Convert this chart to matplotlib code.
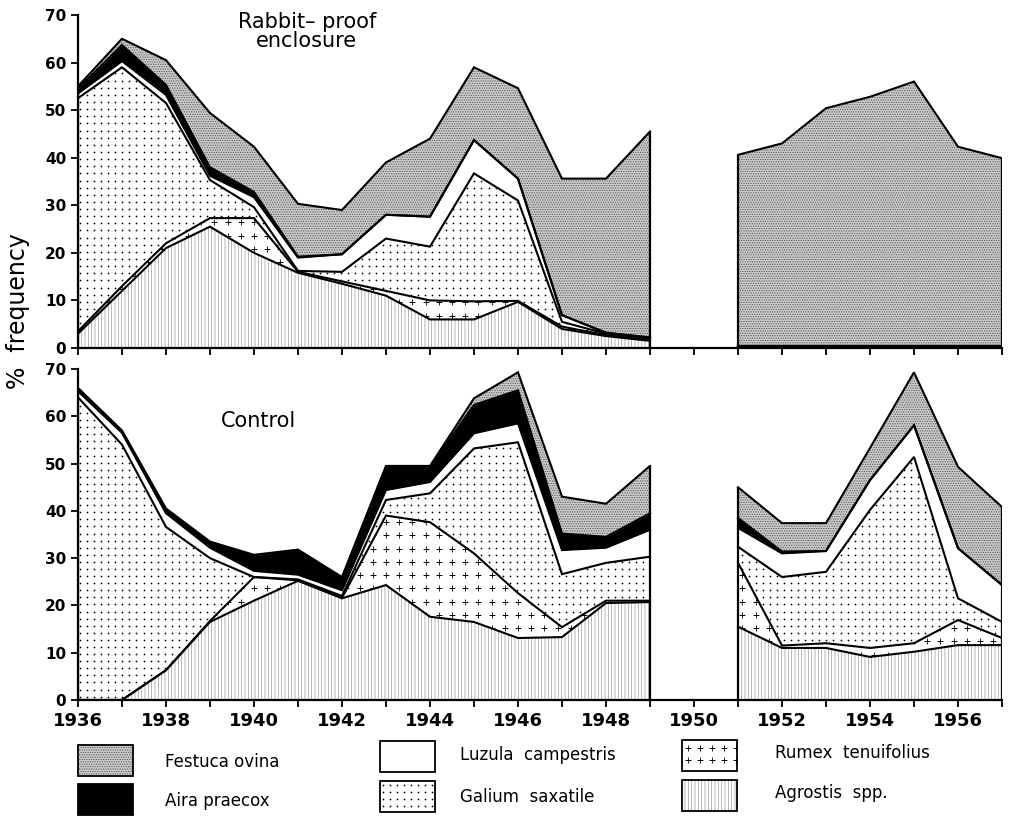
import numpy as np
import matplotlib.pyplot as plt
from matplotlib.patches import Rectangle
from matplotlib.path import Path

nan = np.nan
years = list(range(1936, 1958))  # 1950 not recorded

# Rabbit-proof enclosure, % frequency of each species (stack order bottom -> top)
enc_agrostis = [3, 12, 21, 25.5, 20, 15.8, 13.5, 11, 6, 6, 9.7, 4, 2.5, 1.5, nan, 0.5, 0.5, 0.5, 0.5, 0.5, 0.5, 0.5]
enc_rumex = [0.5, 1, 1, 1.8, 7.3, 0.2, 0.5, 1, 4, 3.8, 0.2, 0.5, 0.2, 0.1, nan, 0, 0, 0, 0, 0, 0, 0]
enc_galium = [49, 46, 29.5, 8, 2.3, 0.2, 2, 11, 11.3, 26.9, 21.1, 1, 0.3, 0.4, nan, 0, 0, 0, 0, 0, 0, 0]
enc_luzula = [1, 1.3, 1.7, 0.9, 2.1, 2.8, 3.7, 5, 6.3, 7, 4.6, 1.4, 0.2, 0.2, nan, 0, 0, 0, 0, 0, 0, 0]
enc_aira = [1, 3.4, 2.1, 1.8, 1.1, 0.2, 0, 0, 0, 0, 0, 0, 0, 0, nan, 0, 0, 0, 0, 0, 0, 0]
enc_festuca = [0.5, 1.3, 5.2, 11.4, 9.5, 11.1, 9.3, 11, 16.4, 15.3, 19, 28.7, 32.4, 43.3, nan,
               40.1, 42.5, 49.9, 52.3, 55.5, 41.8, 39.4]

# Control plot
con_agrostis = [0, 0, 6.3, 16.5, 21, 25.2, 21.5, 24.3, 17.6, 16.5, 13.1, 13.3, 20.5, 20.7, nan,
                15.5, 11, 11, 9.1, 10.2, 11.6, 11.6]
con_rumex = [0, 0, 0, 0.2, 5, 0.1, 0.1, 14.7, 20, 14.5, 9.5, 2.1, 0.5, 0.3, nan, 13.5, 0.5, 1, 1.9, 1.8, 5.3, 1.5]
con_galium = [64, 54, 30.3, 13.3, 0, 0.2, 0.4, 3.3, 6.1, 22.2, 31.9, 11.2, 8, 9.3, nan,
              3.4, 14.5, 15.1, 29.2, 39.4, 4.6, 3.4]
con_luzula = [1.3, 2.5, 2.9, 2.2, 1.3, 1, 1.2, 2.1, 2.4, 3.2, 4, 5.1, 3.2, 5.7, nan, 4, 5, 4.4, 6.3, 6.7, 10.6, 7.8]
con_aira = [0.2, 0.2, 0.7, 1.1, 3.2, 5.2, 2.6, 4.9, 3.2, 6, 7, 3.5, 2.3, 3.5, nan, 2.1, 0.4, 0, 0, 0, 0, 0]
con_festuca = [0.5, 0.3, 0.3, 0.2, 0.2, 0.1, 0.2, 0.2, 0.2, 1.4, 3.8, 7.8, 7, 10, nan,
               6.5, 6, 5.9, 6.8, 11.2, 17.2, 16.5]

species = ['Agrostis  spp.', 'Rumex  tenuifolius', 'Galium  saxatile',
           'Luzula  campestris', 'Aira praecox', 'Festuca ovina']

# fill style per species: facecolor, hatch, hatch colour, marker overlay
styles = {
    'Agrostis  spp.': dict(fc='white', hatch='|||||', hc='#9a9a9a', mk=None),
    'Rumex  tenuifolius': dict(fc='white', hatch=None, hc='k', mk='+'),
    'Galium  saxatile': dict(fc='white', hatch=None, hc='k', mk='.'),
    'Luzula  campestris': dict(fc='white', hatch=None, hc='k', mk=None),
    'Aira praecox': dict(fc='black', hatch=None, hc='k', mk=None),
    'Festuca ovina': dict(fc='#cccccc', hatch='.......', hc='#4a4a4a', mk=None),
}

plt.rcParams['hatch.linewidth'] = 0.5
tick_font = dict(family=['Liberation Sans Narrow', 'DejaVu Sans'], weight='bold')


def overlay(ax, kind, path, trans, xr, yr, dx, dy):
    # scatter a regular grid of dots / plus signs, clipped to a filled area
    gx, gy = np.meshgrid(np.arange(xr[0], xr[1], dx), np.arange(yr[0], yr[1], dy))
    if kind == '.':
        sc = ax.scatter(gx.ravel(), gy.ravel(), s=1.6, c='k', marker='o', linewidths=0, zorder=2)
    else:
        sc = ax.scatter(gx.ravel(), gy.ravel(), s=14, c='k', marker='+', linewidths=0.6, zorder=2)
    sc.set_clip_path(path, trans)


def draw_panel(ax, layers):
    yrs = np.array(years, dtype=float)
    data = np.array(layers, dtype=float)
    ok = ~np.isnan(data[0])
    runs, cur = [], []
    for i in range(len(yrs)):
        if ok[i]:
            cur.append(i)
        elif cur:
            runs.append(cur)
            cur = []
    if cur:
        runs.append(cur)
    for idx in runs:
        x = yrs[idx]
        base = np.zeros(len(idx))
        for k, name in enumerate(species):
            st = styles[name]
            top = base + data[k, idx]
            coll = ax.fill_between(x, base, top, facecolor=st['fc'], hatch=st['hatch'],
                                   edgecolor=st['hc'], linewidth=0, zorder=1)
            if st['mk']:
                p = Path.make_compound_path(*coll.get_paths())
                if st['mk'] == '.':
                    overlay(ax, '.', p, ax.transData, (1936.05, 1957), (0.7, 70), 0.16, 1.5)
                else:
                    overlay(ax, '+', p, ax.transData, (1936.1, 1957), (1.2, 70), 0.3, 2.8)
            ax.plot(x, top, color='k', lw=1.5, zorder=3, solid_joinstyle='miter')
            base = top
        ax.vlines([x[0], x[-1]], 0, [base[0], base[-1]], color='k', lw=1.6, zorder=3)

    ax.set_xlim(1936, 1957)
    ax.set_ylim(0, 70)
    for s in ['top', 'right']:
        ax.spines[s].set_visible(False)
    ax.spines['left'].set_linewidth(1.6)
    ax.spines['bottom'].set_linewidth(1.6)
    ax.spines['bottom'].set_zorder(4)
    ax.set_yticks(range(0, 71, 10))
    ax.set_xticks(range(1936, 1958), minor=True)
    ax.tick_params(axis='both', which='both', direction='out', width=1.3, length=5)
    ax.set_yticklabels([str(v) for v in range(0, 71, 10)], fontsize=11, **tick_font)


fig = plt.figure(figsize=(10.1, 8.18), dpi=100)
ax1 = fig.add_axes([0.0772, 0.5746, 0.9149, 0.4071])
ax2 = fig.add_axes([0.0772, 0.1443, 0.9149, 0.4046])

draw_panel(ax1, [enc_agrostis, enc_rumex, enc_galium, enc_luzula, enc_aira, enc_festuca])
draw_panel(ax2, [con_agrostis, con_rumex, con_galium, con_luzula, con_aira, con_festuca])

ax1.set_xticks(range(1936, 1958, 2))
ax1.set_xticklabels([])
ax2.set_xticks(range(1936, 1958, 2))
ax2.set_xticklabels([str(y) for y in range(1936, 1958, 2)], fontsize=13, **tick_font)

ax1.text(1941.2, 66.5, 'Rabbit\u2013 proof\nenclosure', ha='center', va='center',
         fontsize=15, linespacing=0.95)
ax2.text(1940.1, 59, 'Control', ha='center', va='center', fontsize=15)
fig.text(0.018, 0.62, '%  frequency', rotation=90, ha='center', va='center', fontsize=17)

# legend drawn in pixel units below the panels
lax = fig.add_axes([0, 0, 1, 0.1015])
lax.set_xlim(0, 1010)
lax.set_ylim(818, 735)
lax.axis('off')
leg_order = ['Festuca ovina', 'Aira praecox', 'Luzula  campestris',
             'Galium  saxatile', 'Rumex  tenuifolius', 'Agrostis  spp.']
leg_box_x = [78, 78, 380, 380, 682, 682]
leg_box_y = [745, 784, 741, 781, 740, 780]
leg_text_x = [165, 165, 460, 460, 775, 775]
leg_text_y = [762, 801, 755, 797, 753, 793]
for name, bx, by, tx, ty in zip(leg_order, leg_box_x, leg_box_y, leg_text_x, leg_text_y):
    st = styles[name]
    r = Rectangle((bx, by), 55, 31, facecolor=st['fc'], hatch=st['hatch'],
                  edgecolor=st['hc'], linewidth=0, zorder=1)
    lax.add_patch(r)
    if st['mk'] == '.':
        overlay(lax, '.', r.get_path(), r.get_transform(), (bx + 3, bx + 55), (by + 4, by + 31), 7, 7)
    elif st['mk'] == '+':
        overlay(lax, '+', r.get_path(), r.get_transform(), (bx + 6, bx + 55), (by + 8, by + 31), 12, 12)
    lax.add_patch(Rectangle((bx, by), 55, 31, facecolor='none', edgecolor='k', linewidth=1.3, zorder=3))
    lax.text(tx, ty, name, ha='left', va='center', fontsize=12)

fig.savefig('out.png', dpi=100)
